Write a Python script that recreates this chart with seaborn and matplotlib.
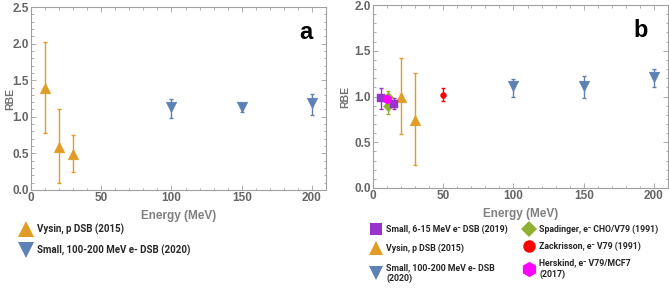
import numpy as np
import pandas as pd
import matplotlib
matplotlib.use("Agg")
import matplotlib.pyplot as plt
import seaborn as sns
from matplotlib.lines import Line2D
from matplotlib.ticker import MultipleLocator, FormatStrFormatter

# ---- data ----
# panel a
vysin_a_x = [10, 20, 30]
vysin_a_y = [1.39, 0.59, 0.49]
vysin_a_lo = [0.78, 0.09, 0.25]
vysin_a_hi = [2.02, 1.11, 0.75]

small_hi_a_x = [100, 150, 200]
small_hi_a_y = [1.14, 1.14, 1.19]
small_hi_a_lo = [0.99, 1.07, 1.03]
small_hi_a_hi = [1.25, 1.18, 1.31]

# panel b
small_lo_x = [6, 15]
small_lo_y = [0.98, 0.92]
small_lo_lo = [0.86, 0.86]
small_lo_hi = [1.09, 0.98]

spad_x = [11, 11]
spad_y = [1.00, 0.90]
spad_lo = [0.93, 0.81]
spad_hi = [1.06, 0.98]

hersk_x = [10]
hersk_y = [0.97]
hersk_lo = [0.92]
hersk_hi = [1.02]

zack_x = [50]
zack_y = [1.02]
zack_lo = [0.95]
zack_hi = [1.09]

vysin_b_x = [20, 30]
vysin_b_y = [1.00, 0.74]
vysin_b_lo = [0.59, 0.25]
vysin_b_hi = [1.42, 1.26]

small_hi_b_x = [100, 150, 200]
small_hi_b_y = [1.11, 1.11, 1.21]
small_hi_b_lo = [1.00, 0.98, 1.10]
small_hi_b_hi = [1.19, 1.22, 1.30]

ORANGE = "#E09C24"
BLUE = "#5E81B5"
GREEN = "#8FB032"
PURPLE = "#9A32CD"
RED = "#FF0000"
MAGENTA = "#FF00FF"

sns.set_style("ticks")
plt.rcParams["font.family"] = ["Liberation Sans", "DejaVu Sans"]

fig = plt.figure(figsize=(6.69, 2.88), dpi=100)
ax_a = fig.add_axes([31 / 669, 1 - 190 / 288, (326 - 31) / 669, (190 - 7) / 288])
ax_b = fig.add_axes([373 / 669, 1 - 188 / 288, (668 - 373) / 669, (188 - 5) / 288])


def series(ax, x, y, lo, hi, color, marker, size, zorder=3):
    df = pd.DataFrame({"Energy": x, "RBE": y})
    y = np.array(y)
    err = [y - np.array(lo), np.array(hi) - y]
    ax.errorbar(x, y, yerr=err, fmt="none", ecolor=color, elinewidth=1.0,
                capsize=1.5, capthick=1.0, zorder=zorder)
    sns.scatterplot(data=df, x="Energy", y="RBE", ax=ax, color=color,
                    marker=marker, s=size, edgecolor=color, linewidth=0.3,
                    legend=False, zorder=zorder + 1)


series(ax_a, vysin_a_x, vysin_a_y, vysin_a_lo, vysin_a_hi, ORANGE, "^", 60)
series(ax_a, small_hi_a_x, small_hi_a_y, small_hi_a_lo, small_hi_a_hi, BLUE, "v", 60)

series(ax_b, vysin_b_x, vysin_b_y, vysin_b_lo, vysin_b_hi, ORANGE, "^", 60)
series(ax_b, small_hi_b_x, small_hi_b_y, small_hi_b_lo, small_hi_b_hi, BLUE, "v", 60)
series(ax_b, zack_x, zack_y, zack_lo, zack_hi, RED, "o", 18)
series(ax_b, spad_x, spad_y, spad_lo, spad_hi, GREEN, "D", 28)
series(ax_b, small_lo_x, small_lo_y, small_lo_lo, small_lo_hi, PURPLE, "s", 40)
series(ax_b, hersk_x, hersk_y, hersk_lo, hersk_hi, MAGENTA, "h", 45)

frame_col = "#A0A0A0"
lab_col = "#666666"
for ax, ymax, ylab_x in [(ax_a, 2.5, -0.055), (ax_b, 2.0, -0.078)]:
    ax.set_xlim(0, 210)
    ax.set_ylim(0, ymax)
    ax.xaxis.set_major_locator(MultipleLocator(50))
    ax.xaxis.set_minor_locator(MultipleLocator(10))
    ax.yaxis.set_major_locator(MultipleLocator(0.5))
    ax.yaxis.set_minor_locator(MultipleLocator(0.1))
    ax.yaxis.set_major_formatter(FormatStrFormatter("%.1f"))
    ax.tick_params(which="both", direction="in", top=True, right=True,
                   color=frame_col, width=0.6, labelsize=8.5,
                   labelcolor=lab_col, pad=1.5)
    ax.tick_params(which="major", length=3.5)
    ax.tick_params(which="minor", length=1.8)
    for lab in ax.get_xticklabels() + ax.get_yticklabels():
        lab.set_fontweight("bold")
    for sp in ax.spines.values():
        sp.set_color(frame_col)
        sp.set_linewidth(0.8)
    ax.set_xlabel("Energy (MeV)", fontsize=8.5, color="#808080",
                  fontweight="bold", labelpad=4)
    ax.set_ylabel("RBE", fontsize=7.5, color="#707070", fontweight="bold")
    ax.yaxis.set_label_coords(ylab_x, 0.5)

ax_a.text(0.955, 0.86, "a", transform=ax_a.transAxes, fontsize=17,
          fontweight="bold", ha="right", va="center", color="black")
ax_b.text(0.93, 0.86, "b", transform=ax_b.transAxes, fontsize=17,
          fontweight="bold", ha="right", va="center", color="black")


def handle(color, marker, ms):
    return Line2D([], [], linestyle="none", marker=marker, color=color,
                  markersize=ms, markeredgewidth=0)


def put_legend(handles, labels, x, y, size, spacing):
    fig.legend(handles=handles, labels=labels, loc="upper left",
               bbox_to_anchor=(x / 669, 1 - y / 288), frameon=False,
               prop={"family": ["Roboto", "DejaVu Sans"], "weight": "bold", "size": size},
               handlelength=1.0, handletextpad=0.6, labelspacing=spacing,
               borderaxespad=0, borderpad=0)


put_legend([handle(ORANGE, "^", 11), handle(BLUE, "v", 11)],
           ["Vysin, p DSB (2015)", "Small, 100-200 MeV e- DSB (2020)"],
           21, 224, 7.0, 0.95)

put_legend([handle(PURPLE, "s", 9), handle(ORANGE, "^", 10), handle(BLUE, "v", 10)],
           ["Small, 6-15 MeV e\u207b DSB (2019)", "Vysin, p DSB (2015)",
            "Small, 100-200 MeV e- DSB\n(2020)"],
           372, 225, 6.3, 1.1)

put_legend([handle(GREEN, "D", 8), handle(RED, "o", 9), handle(MAGENTA, "h", 11)],
           ["Spadinger, e\u207b CHO/V79 (1991)", "Zackrisson, e\u207b V79 (1991)",
            "Herskind, e\u207b V79/MCF7\n(2017)"],
           525, 225, 6.3, 0.85)

fig.savefig("out.png", dpi=100)
